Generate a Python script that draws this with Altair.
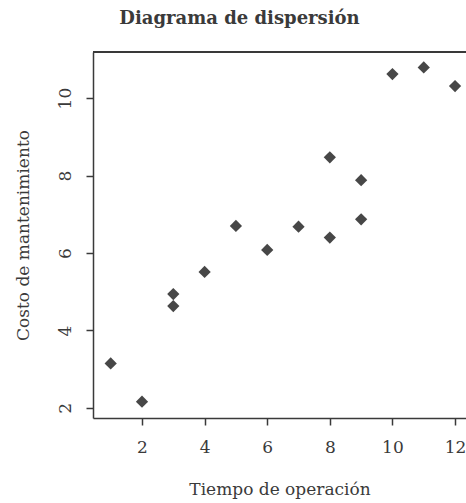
import altair as alt
import pandas as pd

tiempo = [1, 2, 3, 3, 4, 5, 6, 7, 8, 8, 9, 9, 10, 11, 12]
costo = [3.15, 2.16, 4.94, 4.63, 5.51, 6.70, 6.08, 6.68, 8.47, 6.40, 7.88, 6.87, 10.62, 10.79, 10.31]
x_ticks = [2, 4, 6, 8, 10, 12]
y_ticks = [2, 4, 6, 8, 10]

df = pd.DataFrame({"tiempo": tiempo, "costo": costo})

W, H = 373, 366
FONT = "DejaVu Serif"
INK = "#3a3a3a"

points = alt.Chart(df).mark_point(
    shape="diamond", filled=True, size=150, color="#474747", opacity=1
).encode(
    x=alt.X("tiempo:Q",
            scale=alt.Scale(domain=[0.435, 12.35], nice=False, zero=False),
            axis=alt.Axis(values=x_ticks, title="Tiempo de operación", grid=False,
                          tickSize=7, labelPadding=14, labelFontSize=17,
                          titleFontSize=17, titleFontWeight="normal",
                          titleY=71, titleBaseline="middle",
                          domainColor=INK, tickColor=INK, domainWidth=1.5, tickWidth=1.5,
                          labelColor=INK, titleColor=INK, labelFont=FONT, titleFont=FONT)),
    y=alt.Y("costo:Q",
            scale=alt.Scale(domain=[1.74, 11.19], nice=False, zero=False),
            axis=alt.Axis(values=y_ticks, title="Costo de mantenimiento", grid=False,
                          tickSize=7, labelPadding=12, labelFontSize=17,
                          labelAngle=270, labelAlign="center", labelBaseline="bottom",
                          titleFontSize=17, titleFontWeight="normal",
                          titleX=-70, titleY=H / 2, titleAngle=270,
                          titleAlign="center", titleBaseline="middle",
                          domainColor=INK, tickColor=INK, domainWidth=1.5, tickWidth=1.5,
                          labelColor=INK, titleColor=INK, labelFont=FONT, titleFont=FONT)),
)

top_rule = alt.Chart(df).mark_rule(color=INK, strokeWidth=1.5).encode(
    x=alt.value(0), x2=alt.value(W + 5), y=alt.value(0)
)

chart = alt.layer(top_rule, points).properties(
    width=W, height=H,
    title=alt.TitleParams("Diagrama de dispersión", font=FONT, fontSize=18,
                          fontWeight="bold", color=INK, dx=-40, offset=23),
    autosize=alt.AutoSizeParams(type="none"),
    padding={"left": 93, "top": 52, "right": 0, "bottom": 85},
    background="white",
).configure_view(stroke=None)

chart.save("out.html", embed_options={"renderer": "svg", "actions": False})
